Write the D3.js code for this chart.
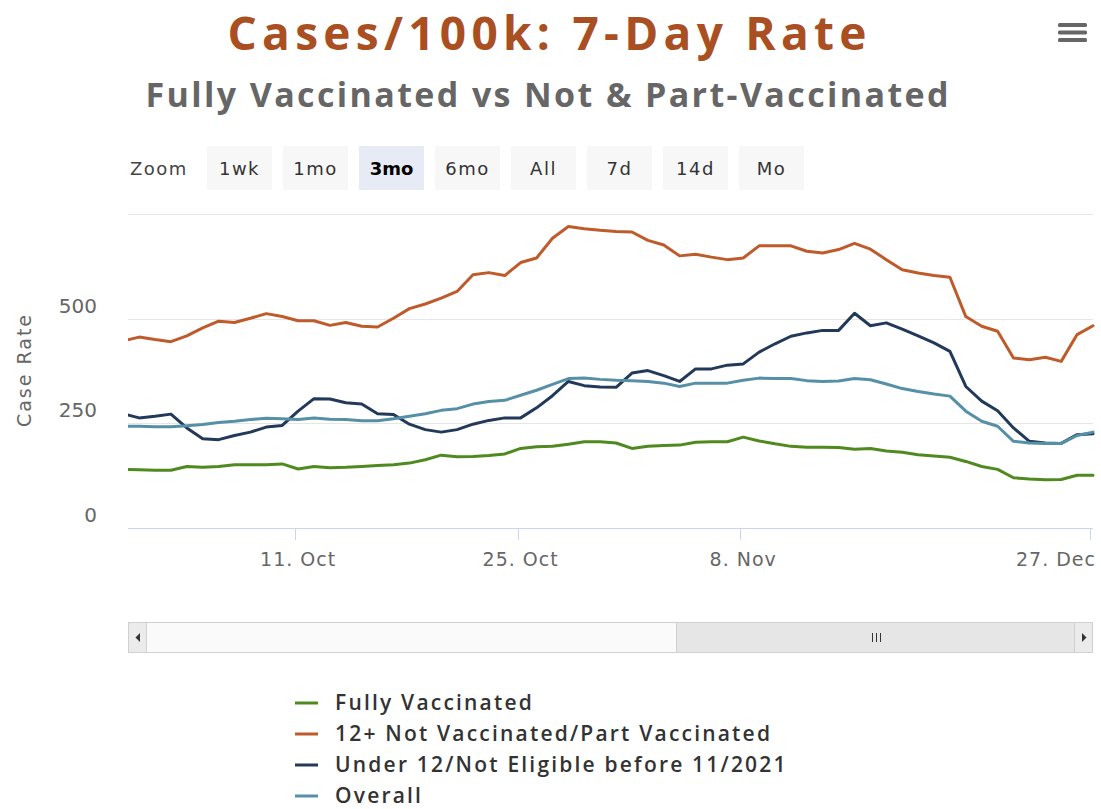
<!DOCTYPE html>
<html>
  <head>
    <meta charset="utf-8">
    <title>Cases/100k: 7-Day Rate</title>
    <script src="https://cdn.jsdelivr.net/npm/d3@7"></script>
    <style>
      body { margin: 0; background: #fff; }
      svg { display: block; }
      text { font-family: "DejaVu Sans", sans-serif; }
    </style>
  </head>
  <body>
    <svg id="chart" width="1101" height="809"></svg>

    <script>
      // data (one point per reported day, ordinal axis: gaps in dates are skipped)
      const seriesNames = [
        "Fully Vaccinated",
        "12+ Not Vaccinated/Part Vaccinated",
        "Under 12/Not Eligible before 11/2021",
        "Overall"
      ];
      const seriesColours = ["#4f8a1f", "#bf5a2a", "#22395a", "#5590a6"];

      const fullyVaccinated = [
        140, 139, 138, 138, 147, 145, 147, 151, 151, 151, 153, 141, 147, 144, 145, 147,
        149, 151, 155, 163, 174, 170, 171, 173, 177, 190, 194, 195, 200, 206, 206, 203,
        190, 195, 197, 198, 205, 206, 206, 217, 208, 201, 195, 193, 193, 192, 188, 190,
        184, 181, 175, 172, 169, 159, 147, 140, 120, 117, 115, 116, 126, 126
      ];
      const notVaccinated = [
        447, 456, 450, 445, 459, 478, 494, 491, 501, 512, 505, 495, 495, 484, 491, 482,
        480, 501, 524, 535, 549, 565, 605, 610, 603, 634, 645, 692, 720, 715, 711, 708,
        707, 687, 676, 650, 654, 647, 641, 645, 674, 674, 674, 661, 657, 665, 680, 666,
        641, 617, 609, 603, 599, 505, 482, 470, 406, 402, 408, 398, 462, 483
      ];
      const under12 = [
        273, 263, 267, 272, 239, 213, 211, 221, 229, 241, 245, 279, 309, 308, 299, 296,
        273, 271, 248, 235, 229, 235, 248, 257, 263, 263, 287, 316, 350, 340, 337, 336,
        370, 376, 364, 350, 380, 380, 389, 392, 420, 440, 458, 466, 472, 472, 513, 483,
        490, 475, 459, 442, 422, 338, 303, 280, 239, 207, 203, 202, 223, 225
      ];
      const overall = [
        243, 243, 242, 242, 244, 247, 252, 255, 259, 262, 261, 259, 263, 260, 259, 256,
        256, 261, 267, 273, 281, 285, 296, 302, 305, 317, 329, 343, 357, 358, 355, 353,
        352, 350, 346, 338, 346, 346, 346, 353, 358, 357, 357, 352, 350, 351, 357, 354,
        344, 333, 326, 320, 315, 279, 255, 243, 207, 203, 202, 202, 221, 229
      ];

      const tickIndex = [11, 25, 39, 61];
      const tickLabels = ["11. Oct", "25. Oct", "8. Nov", "27. Dec"];
      const yTicks = [0, 250, 500, 750];
      const zoomButtons = ["1wk", "1mo", "3mo", "6mo", "All", "7d", "14d", "Mo"];
      const selectedButton = "3mo";

      const series = [fullyVaccinated, notVaccinated, under12, overall];

      // layout
      const svg = d3.select("#chart");
      const plot = { left: 128, right: 1093, top: 214, bottom: 528 };

      // titles (width stretched by spacing to match the wider original face)
      svg.append("text")
        .attr("x", 547).attr("y", 50)
        .attr("text-anchor", "middle")
        .attr("textLength", 639)
        .attr("lengthAdjust", "spacing")
        .style("font-family", "'Open Sans', sans-serif")
        .style("font-weight", 700)
        .style("font-size", "46px")
        .style("fill", "#a94f22")
        .text("Cases/100k: 7-Day Rate");

      svg.append("text")
        .attr("x", 547).attr("y", 107)
        .attr("text-anchor", "middle")
        .attr("textLength", 803)
        .attr("lengthAdjust", "spacing")
        .style("font-family", "'Open Sans', sans-serif")
        .style("font-weight", 700)
        .style("font-size", "34px")
        .style("fill", "#666")
        .text("Fully Vaccinated vs Not & Part-Vaccinated");

      // menu icon
      svg.selectAll(".menu")
        .data([0, 1, 2])
      .enter().append("rect")
        .attr("x", 1058).attr("width", 29)
        .attr("y", function(d) { return 23 + d * 7.5; })
        .attr("height", 4).attr("rx", 1.5)
        .style("fill", "#666");

      // zoom buttons
      svg.append("text")
        .attr("x", 130).attr("y", 175)
        .style("font-size", "18px")
        .style("letter-spacing", "1.5px")
        .style("fill", "#444")
        .text("Zoom");

      const buttons = svg.selectAll(".button")
        .data(zoomButtons)
      .enter().append("g")
        .attr("transform", function(d, i) { return "translate(" + (207 + i * 76) + ",146)"; });
      buttons.append("rect")
        .attr("width", 65).attr("height", 44)
        .style("fill", function(d) { return d === selectedButton ? "#e6ebf5" : "#f7f7f7"; });
      buttons.append("text")
        .attr("x", 32.5).attr("y", 29)
        .attr("text-anchor", "middle")
        .style("font-size", "18px")
        .style("letter-spacing", function(d) { return d === selectedButton ? "0px" : "1.5px"; })
        .style("font-weight", function(d) { return d === selectedButton ? 700 : 400; })
        .style("fill", function(d) { return d === selectedButton ? "#000" : "#333"; })
        .text(function(d) { return d; });

      // scales
      const x = d3.scaleLinear()
        .domain([0.3, 61])
        .range([plot.left, plot.right]);
      const y = d3.scaleLinear()
        .domain([0, 750])
        .range([plot.bottom, plot.top]);

      // grid
      svg.append("g")
        .selectAll("line")
        .data(yTicks)
      .enter().append("line")
        .attr("x1", plot.left).attr("x2", plot.right)
        .attr("y1", function(d) { return Math.round(y(d)) + .5; })
        .attr("y2", function(d) { return Math.round(y(d)) + .5; })
        .style("stroke", "#e6e6e6");

      svg.append("g")
        .selectAll("text")
        .data(yTicks.slice(0, 3))
      .enter().append("text")
        .attr("x", 97)
        .attr("y", function(d) { return y(d) - 6; })
        .attr("text-anchor", "end")
        .style("font-size", "20px")
        .style("fill", "#666")
        .text(function(d) { return d; });

      svg.append("text")
        .attr("transform", "translate(31,370) rotate(-90)")
        .attr("text-anchor", "middle")
        .style("font-size", "19px")
        .style("letter-spacing", "2px")
        .style("fill", "#666")
        .text("Case Rate");

      // x axis
      const xAxis = svg.append("g");
      xAxis.append("line")
        .attr("x1", plot.left).attr("x2", plot.right)
        .attr("y1", plot.bottom + .5).attr("y2", plot.bottom + .5)
        .style("stroke", "#ccd6eb");
      xAxis.selectAll(".tick")
        .data(tickIndex)
      .enter().append("line")
        .attr("x1", function(d) { return Math.round(x(d)) - 2.5; })
        .attr("x2", function(d) { return Math.round(x(d)) - 2.5; })
        .attr("y1", plot.bottom).attr("y2", plot.bottom + 12)
        .style("stroke", "#ccd6eb");
      xAxis.selectAll("text")
        .data(tickIndex)
      .enter().append("text")
        .attr("x", function(d, i) { return i === tickIndex.length - 1 ? 1096 : x(d); })
        .attr("y", 566)
        .attr("text-anchor", function(d, i) { return i === tickIndex.length - 1 ? "end" : "middle"; })
        .style("font-size", "19px")
        .style("letter-spacing", "1px")
        .style("fill", "#666")
        .text(function(d, i) { return tickLabels[i]; });

      // lines
      svg.append("clipPath")
        .attr("id", "plotClip")
        .append("rect")
          .attr("x", plot.left).attr("y", plot.top - 5)
          .attr("width", plot.right - plot.left + 2)
          .attr("height", plot.bottom - plot.top + 5);

      const line = d3.line()
        .x(function(d, i) { return x(i); })
        .y(function(d) { return y(d); });

      svg.append("g")
        .attr("clip-path", "url(#plotClip)")
        .selectAll("path")
        .data(series)
      .enter().append("path")
        .attr("d", line)
        .style("fill", "none")
        .style("stroke", function(d, i) { return seriesColours[i]; })
        .style("stroke-width", 3)
        .style("stroke-linejoin", "round")
        .style("stroke-linecap", "round");

      // scrollbar
      const scroll = svg.append("g");
      scroll.append("rect")
        .attr("x", plot.left + .5).attr("y", 622.5)
        .attr("width", plot.right - plot.left - 1).attr("height", 30)
        .style("fill", "#fafafa").style("stroke", "#d0d0d0");
      scroll.append("rect")
        .attr("x", 676.5).attr("y", 622.5)
        .attr("width", 398).attr("height", 30)
        .style("fill", "#e6e6e6").style("stroke", "#d0d0d0");
      [0, 1, 2].forEach(function(k) {
        scroll.append("line")
          .attr("x1", 872.5 + k * 4).attr("x2", 872.5 + k * 4)
          .attr("y1", 633).attr("y2", 642)
          .style("stroke", "#333");
      });
      scroll.append("rect")
        .attr("x", plot.left + .5).attr("y", 622.5)
        .attr("width", 18).attr("height", 30)
        .style("fill", "#ebebeb").style("stroke", "#d0d0d0");
      scroll.append("rect")
        .attr("x", plot.right - 18.5).attr("y", 622.5)
        .attr("width", 18).attr("height", 30)
        .style("fill", "#ebebeb").style("stroke", "#d0d0d0");
      scroll.append("path")
        .attr("d", "M140,633 L140,642 L135.5,637.5 Z")
        .style("fill", "#333");
      scroll.append("path")
        .attr("d", "M1082,633 L1082,642 L1086.5,637.5 Z")
        .style("fill", "#333");

      // legend
      const legend = svg.selectAll(".legendItem")
        .data(seriesNames)
      .enter().append("g")
        .attr("transform", function(d, i) { return "translate(0," + (703 + i * 31) + ")"; });
      legend.append("line")
        .attr("x1", 295).attr("x2", 318)
        .style("stroke", function(d, i) { return seriesColours[i]; })
        .style("stroke-width", 3);
      const legendText = legend.append("text")
        .attr("x", 335).attr("y", 7)
        .style("font-family", "'Open Sans', sans-serif")
        .style("font-size", "21px")
        .style("font-weight", 600)
        .style("fill", "#333")
        .text(function(d) { return d; });
      const widest = legendText.filter(function(d, i) { return i === 1; });
      const spacing = (435 - widest.node().getComputedTextLength()) / (seriesNames[1].length - 1);
      legendText.style("letter-spacing", Math.max(0, spacing) + "px");
    </script>
  </body>
</html>
